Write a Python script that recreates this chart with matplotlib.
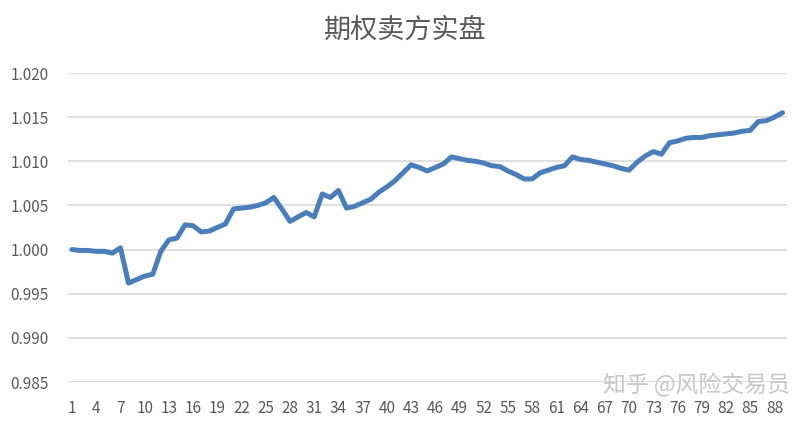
import matplotlib
matplotlib.use("Agg")
import matplotlib.pyplot as plt

plt.rcParams['font.family'] = ['Noto Sans CJK SC', 'DejaVu Sans']

TITLE = "期权卖方实盘"
WATERMARK = "知乎 @风险交易员"

# net value per trading day
days = list(range(1, 90))
nav = [
    1.0000, 0.9999, 0.9999, 0.9998, 0.9998, 0.9996, 1.0002, 0.9962, 0.9966, 0.9970,
    0.9972, 0.9998, 1.0011, 1.0013, 1.0028, 1.0027, 1.0020, 1.0021, 1.0025, 1.0029,
    1.0046, 1.0047, 1.0048, 1.0050, 1.0053, 1.0059, 1.0046, 1.0032, 1.0037, 1.0042,
    1.0037, 1.0063, 1.0059, 1.0067, 1.0047, 1.0049, 1.0053, 1.0057, 1.0065, 1.0071,
    1.0078, 1.0087, 1.0096, 1.0093, 1.0089, 1.0093, 1.0097, 1.0105, 1.0103, 1.0101,
    1.0100, 1.0098, 1.0095, 1.0094, 1.0089, 1.0085, 1.0080, 1.0080, 1.0087, 1.0090,
    1.0093, 1.0095, 1.0105, 1.0102, 1.0101, 1.0099, 1.0097, 1.0095, 1.0092, 1.0090,
    1.0099, 1.0106, 1.0111, 1.0108, 1.0121, 1.0123, 1.0126, 1.0127, 1.0127, 1.0129,
    1.0130, 1.0131, 1.0132, 1.0134, 1.0135, 1.0145, 1.0146, 1.0150, 1.0155,
]
y_ticks = [0.985, 0.990, 0.995, 1.000, 1.005, 1.010, 1.015, 1.020]
x_ticks = days[::3]

TEXT_GRAY = "#595959"
GRID_GRAY = "#D9D9D9"

fig = plt.figure(figsize=(8.11, 4.21), dpi=100)
ax = fig.add_axes([0.0838, 0.0926, 0.886, 0.734])

ax.plot(days, nav, color="#4A7EBB", lw=3.6, solid_joinstyle="round",
        solid_capstyle="round", zorder=3)

ax.set_xlim(0.5, 89.5)
ax.set_ylim(0.985, 1.020)
ax.set_yticks(y_ticks)
ax.set_yticklabels([f"{v:.3f}" for v in y_ticks])
ax.set_xticks(x_ticks)
ax.set_xticklabels([str(d) for d in x_ticks])

ax.grid(axis="y", color=GRID_GRAY, lw=1.2)
ax.set_axisbelow(True)
for s in ax.spines.values():
    s.set_visible(False)
ax.tick_params(axis="both", length=0, colors=TEXT_GRAY, labelsize=11)
ax.tick_params(axis="y", pad=14)
ax.tick_params(axis="x", pad=13)

fig.text(0.5, 0.928, TITLE, ha="center", va="center", fontsize=19.5,
         color=TEXT_GRAY)
fig.text(0.974, 0.085, WATERMARK, ha="right", va="center", fontsize=16.5,
         color="#BDBDBD", alpha=0.85)

fig.savefig("out.png", dpi=100)
